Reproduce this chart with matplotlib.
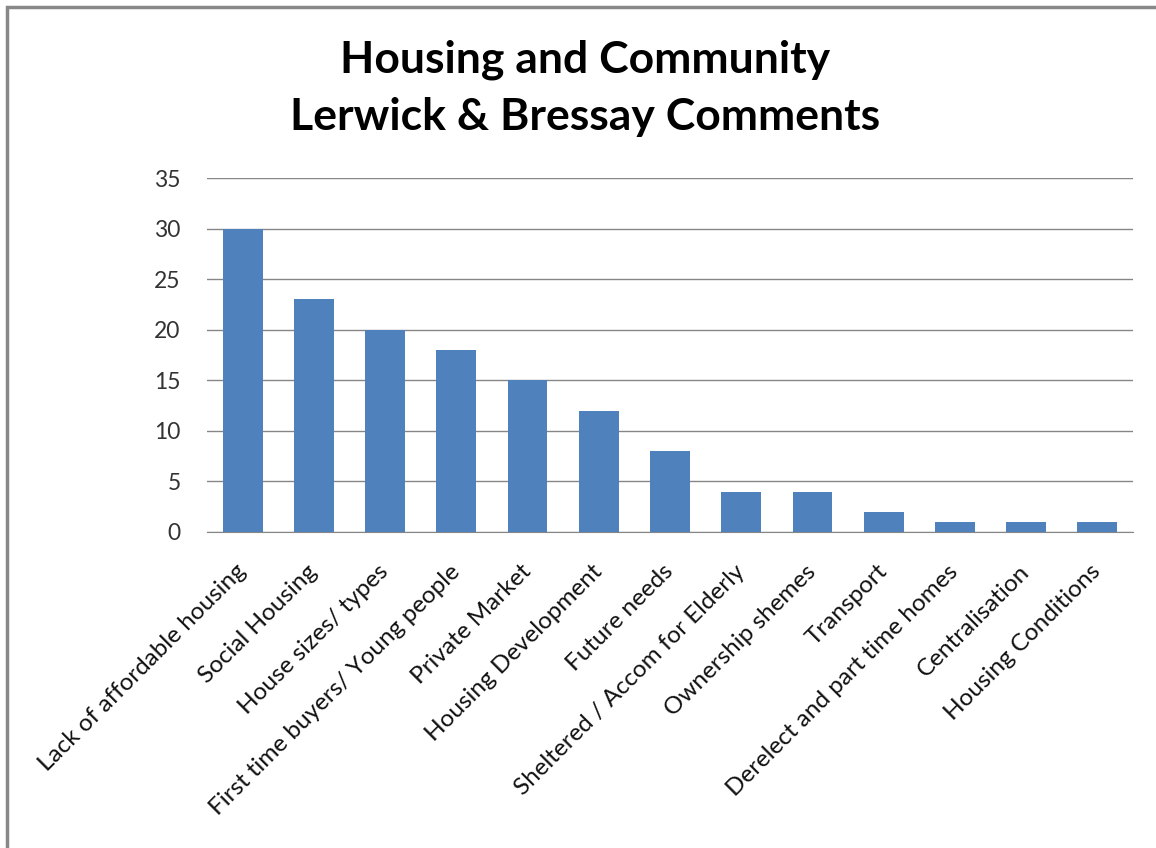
import matplotlib
matplotlib.use("Agg")
import matplotlib.pyplot as plt
from matplotlib.patches import Rectangle

categories = ["Lack of affordable housing", "Social Housing", "House sizes/ types",
              "First time buyers/ Young people", "Private Market", "Housing Development",
              "Future needs", "Sheltered / Accom for Elderly", "Ownership shemes",
              "Transport", "Derelect and part time homes", "Centralisation",
              "Housing Conditions"]
values = [30, 23, 20, 18, 15, 12, 8, 4, 4, 2, 1, 1, 1]
yticks = [0, 5, 10, 15, 20, 25, 30, 35]

plt.rcParams['font.family'] = ['Lato', 'DejaVu Sans']

W, H = 1156, 848
fig = plt.figure(figsize=(W/100, H/100), dpi=100)
ax = fig.add_axes([207/W, 1-532/H, (1133-207)/W, (532-178)/H])

x = list(range(len(categories)))
ax.bar(x, values, width=0.56, color='#4F81BD', zorder=3)
ax.set_xlim(-0.5, len(categories)-0.5)
ax.set_ylim(0, 35)
ax.set_yticks(yticks)
ax.set_yticklabels([str(t) for t in yticks], fontsize=16.5, color='#333333')
ax.yaxis.grid(True, color='#868686', linewidth=1, zorder=0)
for s in ['left', 'right', 'top']:
    ax.spines[s].set_visible(False)
ax.spines['bottom'].set_color('#868686')
ax.tick_params(axis='y', length=0, pad=19)
ax.tick_params(axis='x', length=0, pad=26)
ax.set_xticks(x)
ax.set_xticklabels(categories, rotation=45, ha='right', va='center',
                   rotation_mode='anchor', fontsize=17.5, color='#111111')

fig.text(585/W, 1-60/H, "Housing and Community", ha='center', va='center',
         fontsize=32, fontweight='bold')
fig.text(585/W, 1-117/H, "Lerwick & Bressay Comments", ha='center', va='center',
         fontsize=32, fontweight='bold')

fig.patches.append(Rectangle((7/W, -0.05), 1.1, 1-7/H+0.05, transform=fig.transFigure,
                             fill=False, edgecolor='#888888', linewidth=2.5))

fig.savefig("out.png", dpi=100, facecolor='white')
